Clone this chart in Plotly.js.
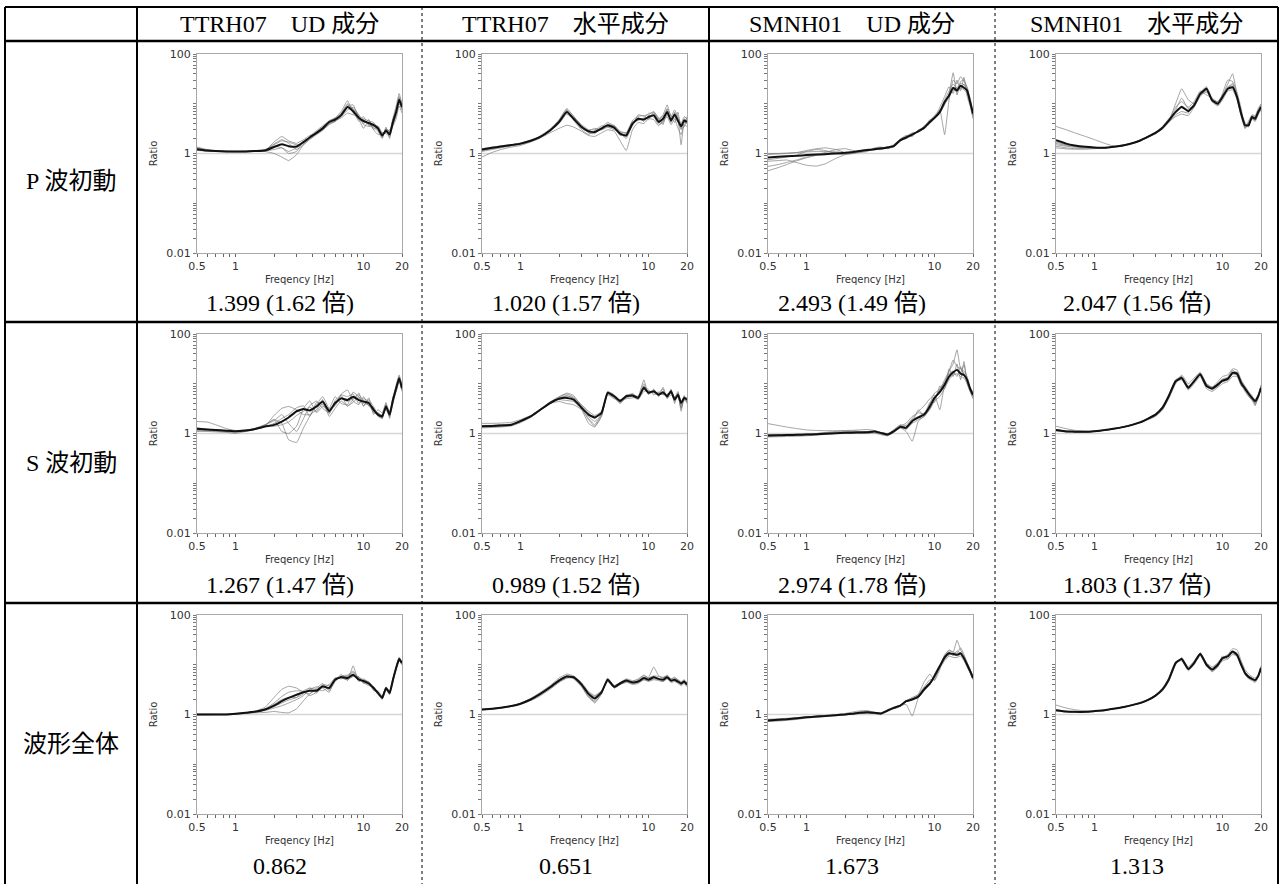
<!DOCTYPE html>
<html>
<head>
<meta charset="utf-8">
<script src="https://cdn.plot.ly/plotly-3.0.1.min.js"></script>
<style>
  html, body { margin: 0; padding: 0; background: #fff; }
  #chart { width: 1282px; height: 884px; }
</style>
</head>
<body>
<div id="chart"></div>
<script>
// Frequency grid [Hz] shared by every spectral-ratio curve
const freqHz = [0.5,0.6,0.7,0.85,1,1.2,1.4,1.7,2,2.3,2.6,3,3.4,3.8,4.3,4.8,5.4,6,6.7,7.5,8.3,9.2,10,11,12,13,14,15,16,17,18,19,20];

// Table text
const columnHeads = ['TTRH07\u3000UD 成分', 'TTRH07\u3000水平成分', 'SMNH01\u3000UD 成分', 'SMNH01\u3000水平成分'];
const rowHeads = ['P 波初動', 'S 波初動', '波形全体'];
const cellValues = [
  '1.399 (1.62 倍)', '1.020 (1.57 倍)', '2.493 (1.49 倍)', '2.047 (1.56 倍)',
  '1.267 (1.47 倍)', '0.989 (1.52 倍)', '2.974 (1.78 倍)', '1.803 (1.37 倍)',
  '0.862', '0.651', '1.673', '1.313'
];
// Labelled ticks and the unlabelled minor ticks of the log axes
const xTickVals = [0.5, 1, 10, 20];
const xTickText = ['0.5', '1', '10', '20'];
const xMinorVals = [0.6,0.7,0.8,0.9,2,3,4,5,6,7,8,9];
const yTickVals = [0.01, 1, 100];
const yTickText = ['0.01', '1', '100'];
const yMinorVals = [0.02,0.03,0.04,0.05,0.06,0.07,0.08,0.09,0.1,0.2,0.3,0.4,0.5,0.6,0.7,0.8,0.9,2,3,4,5,6,7,8,9,10,20,30,40,50,60,70,80,90];

// ---- P-wave onset ----
const pTtrhUdMean = [1.22,1.15,1.12,1.1,1.1,1.1,1.12,1.15,1.35,1.54,1.4,1.38,1.7,2.1,2.6,3.2,4.3,4.8,5.9,8.6,7.1,5.2,4.5,4.1,3.7,3.2,2.3,2.9,2.4,4.3,6.8,12,8.6];
const pTtrhUdRuns = [
  [1.3,1.18,1.12,1.1,1.08,1.08,1.1,1.1,1.0,0.85,0.72,0.95,1.5,2.0,2.7,3.4,4.6,5.2,7.0,11.5,6.5,4.8,5.5,3.6,3.3,2.8,2.0,3.2,2.8,5.2,9.0,16,10],
  [1.2,1.14,1.1,1.08,1.07,1.08,1.1,1.15,1.7,2.2,1.8,1.6,1.9,2.3,2.5,3.0,4.0,4.4,5.5,7.5,8.5,6.0,4.0,4.8,3.0,3.6,2.6,2.5,2.2,3.8,6.0,11,7.5],
  [1.25,1.16,1.12,1.1,1.1,1.1,1.12,1.12,1.2,1.3,1.1,1.3,1.6,2.2,2.9,3.6,4.5,5.0,6.2,9.5,7.8,4.4,5.0,4.5,4.2,2.9,2.1,3.4,2.0,4.6,7.5,14,9.5],
  [1.18,1.12,1.1,1.09,1.1,1.1,1.12,1.18,1.55,1.9,1.6,1.2,1.5,1.9,2.4,2.9,4.0,4.6,5.2,6.5,6.0,5.6,3.8,3.5,4.0,3.4,2.5,2.6,2.7,3.9,6.2,10,7.8],
  [1.35,1.2,1.14,1.12,1.1,1.12,1.13,1.2,1.4,1.3,1.0,1.1,1.8,2.1,2.7,3.3,4.4,5.1,6.4,10,8.0,5.8,4.8,3.8,3.5,3.0,2.2,3.1,2.6,4.9,7.2,13,9.0],
  [1.15,1.12,1.1,1.1,1.1,1.1,1.12,1.16,1.5,1.8,1.7,1.5,1.6,2.0,2.5,3.0,3.8,4.4,6.0,9.0,9.5,5.0,3.2,4.6,3.0,2.4,2.6,2.7,3.0,3.6,5.0,9,6.5]
];
const pTtrhHorMean = [1.2,1.3,1.38,1.48,1.58,1.8,2.1,2.9,4.3,6.8,5.0,3.4,2.8,2.7,3.2,3.7,3.3,2.5,2.3,4.0,5.0,4.8,5.4,5.9,4.3,5.0,6.8,4.6,6.1,4.6,3.5,4.6,4.3];
const pTtrhHorRuns = [
  [0.85,1.05,1.2,1.35,1.45,1.7,2.0,2.6,3.2,3.7,3.4,2.8,2.3,2.2,2.6,3.0,2.8,1.8,1.15,3.0,4.2,4.0,5.0,4.8,3.6,4.5,5.5,3.8,5.0,3.2,2.4,3.8,3.5],
  [1.25,1.35,1.42,1.52,1.62,1.85,2.2,3.1,4.8,8.0,5.6,3.6,2.6,2.5,3.4,4.2,3.6,2.8,2.6,4.6,5.6,5.8,6.0,7.0,5.0,6.0,9.5,5.5,7.5,5.5,4.0,5.5,5.0],
  [1.15,1.25,1.35,1.45,1.55,1.75,2.05,2.8,4.5,7.5,4.6,3.0,2.4,2.9,3.6,3.4,3.0,2.6,2.0,3.8,5.3,4.4,5.8,5.4,3.9,4.2,6.0,4.9,5.2,4.2,3.0,5.0,4.6],
  [1.22,1.3,1.38,1.5,1.6,1.82,2.15,3.0,4.2,7.0,5.3,3.8,3.0,3.0,3.0,3.9,3.5,2.3,2.5,4.4,4.6,5.2,6.4,6.5,4.8,5.6,7.8,4.2,6.8,4.9,1.5,4.2,4.0],
  [1.18,1.28,1.36,1.46,1.56,1.78,2.1,2.85,4.0,6.2,4.8,3.2,2.7,2.6,3.1,3.5,3.2,2.4,2.2,3.9,4.8,5.0,5.2,5.6,4.5,4.8,6.5,5.0,5.8,4.4,3.8,4.4,4.2],
  [1.1,1.2,1.3,1.42,1.52,1.74,2.05,2.9,4.6,7.6,5.6,3.6,2.9,3.2,3.0,3.4,3.7,2.7,2.6,3.6,6.0,5.6,4.8,6.8,5.2,3.8,8.0,5.8,4.2,6.8,3.2,3.4,5.5]
];
const pSmnhUdMean = [0.83,0.86,0.88,0.9,0.93,0.95,0.97,1.0,1.03,1.07,1.12,1.17,1.22,1.26,1.32,1.4,1.85,2.1,2.4,2.8,3.3,4.3,5.2,6.8,10.8,14.7,21,18.5,23,21,18.5,10.8,6.3];
const pSmnhUdRuns = [
  [0.45,0.52,0.6,0.72,0.82,0.92,1.0,1.05,1.0,1.02,1.1,1.15,1.25,1.3,1.35,1.45,1.9,2.2,2.6,2.7,3.6,4.6,5.8,7.5,2.4,12,30,25,35,28,22,12,6.5],
  [0.55,0.6,0.66,0.75,0.85,0.95,1.05,1.2,1.25,1.15,1.05,1.1,1.3,1.35,1.25,1.35,1.8,2.0,2.3,3.0,3.1,4.0,5.0,7.0,12,18,25,20,26,24,20,9.5,5.5],
  [0.95,0.98,1.0,1.05,1.15,1.25,1.3,1.2,1.05,1.0,1.05,1.2,1.2,1.2,1.3,1.38,1.9,2.1,2.4,2.9,3.5,4.5,5.5,6.5,11,15,18,22,20,25,17,11,6.8],
  [0.7,0.72,0.74,0.65,0.58,0.56,0.62,0.8,0.95,1.05,1.15,1.2,1.18,1.28,1.36,1.42,1.75,2.2,2.5,2.7,3.2,4.2,5.0,6.5,9.5,16,42,15,28,30,20,13,7.0],
  [1.0,1.0,1.02,1.05,1.08,1.1,1.1,1.08,1.05,1.08,1.14,1.18,1.24,1.3,1.3,1.4,1.85,2.0,2.4,2.8,3.4,4.4,5.4,7.2,10,13,20,17,21,19,16,10,6.0],
  [0.75,0.8,0.85,0.95,1.1,1.2,1.15,1.0,0.95,1.0,1.1,1.22,1.2,1.22,1.34,1.5,1.95,2.3,2.2,3.0,3.3,4.8,5.0,8.5,14,22,16,30,18,34,14,9,5.0]
];
const pSmnhHorMean = [1.85,1.58,1.45,1.36,1.32,1.3,1.36,1.47,1.63,1.85,2.15,2.6,3.3,4.6,6.8,8.6,7.1,9.3,15.8,20,11.7,10,13.6,20,21.5,13.6,6.3,3.7,3.7,5.4,5.0,6.8,8.6];
const pSmnhHorRuns = [
  [3.5,3.0,2.6,2.2,1.9,1.6,1.42,1.45,1.6,1.8,2.1,2.5,3.2,4.4,10,20,12,10,17,22,12,10,14,22,24,14,6.5,3.5,4.0,5.0,4.6,6.0,8.0],
  [1.4,1.3,1.26,1.25,1.27,1.3,1.36,1.48,1.65,1.9,2.2,2.7,3.4,4.8,7.5,13,8.0,9.5,16,18,12,11,15,25,40,15,7.0,4.2,3.5,5.8,5.5,7.2,9.0],
  [1.6,1.45,1.38,1.33,1.3,1.3,1.35,1.46,1.62,1.82,2.1,2.55,3.2,4.3,5.5,6.2,5.8,8.5,14,19,11,9.0,12,18,19,12,5.5,3.2,3.8,5.0,4.4,6.4,8.2],
  [1.3,1.24,1.22,1.22,1.25,1.29,1.35,1.47,1.63,1.86,2.2,2.7,3.5,5.0,7.0,9.0,7.5,9.0,16,21,13,10.5,13,21,22,14,6.8,3.8,3.4,5.6,5.2,7.0,9.5],
  [1.7,1.5,1.4,1.34,1.31,1.3,1.35,1.47,1.63,1.84,2.1,2.6,3.1,4.2,6.0,7.0,6.5,10,15,17,12.5,11,15,20,26,13,6.0,3.6,4.2,5.2,4.8,6.2,7.5],
  [1.5,1.4,1.34,1.3,1.3,1.31,1.36,1.47,1.62,1.83,2.15,2.6,3.3,4.6,8.5,11,8.5,11,18,15,13,9.5,16,30,28,17,8,3.2,4.5,6,5.8,8,10]
];

// ---- S-wave onset ----
const sTtrhUdMean = [1.24,1.21,1.18,1.14,1.11,1.15,1.22,1.38,1.49,1.74,2.1,2.8,3.1,2.9,3.5,4.4,2.8,4.1,5.1,4.7,5.5,4.7,4.4,4.1,3.0,2.4,2.2,3.5,2.4,4.7,8.1,12.9,8.1];
const sTtrhUdRuns = [
  [1.74,1.7,1.5,1.25,1.15,1.18,1.25,1.5,1.9,1.6,0.75,0.66,1.3,2.2,3.8,5.5,3.2,3.6,6.2,7.5,4.5,3.8,5.5,3.6,2.8,2.6,2.0,3.9,2.8,5.2,9.5,15,9.5],
  [1.15,1.14,1.12,1.1,1.08,1.12,1.2,1.45,1.9,1.1,1.0,1.4,3.2,4.5,2.6,3.5,3.2,5.5,4.0,3.8,6.8,5.4,3.6,4.8,3.4,2.2,2.4,3.0,2.2,4.0,7.0,11,7.5],
  [1.1,1.1,1.08,1.05,1.0,1.1,1.2,1.4,2.3,3.2,3.5,3.0,2.4,2.4,3.0,4.8,2.2,3.2,4.5,3.6,4.2,5.5,4.0,3.8,3.2,2.2,2.0,3.6,2.2,5.0,8.5,14,8.8],
  [1.2,1.16,1.12,1.08,1.06,1.12,1.2,1.36,1.6,2.0,2.4,3.3,3.6,2.2,4.2,3.8,2.5,4.6,6.0,5.5,6.2,4.0,5.0,4.4,2.6,2.6,2.3,3.2,2.6,4.4,7.8,12,7.8],
  [1.3,1.22,1.15,1.1,1.1,1.14,1.22,1.38,1.4,1.5,1.7,2.3,2.8,3.4,2.8,4.0,3.0,3.8,5.0,4.4,5.0,6.0,4.6,3.6,3.4,2.4,2.1,3.6,2.5,4.6,8.0,13,8.4],
  [1.25,1.2,1.15,1.12,1.1,1.15,1.25,1.5,1.8,2.4,1.6,1.1,2.0,3.6,4.5,3.2,2.6,4.0,5.8,3.5,4.8,6.5,3.5,5.2,2.4,3.0,2.6,4.2,2.0,5.6,7.0,11.5,7.0]
];
const sTtrhHorMean = [1.4,1.42,1.45,1.5,1.77,2.2,2.9,4.1,5.0,5.2,4.8,3.3,2.4,2.1,2.6,6.6,5.6,4.5,5.6,5.8,5.2,8.3,6.6,7.1,6.0,6.7,5.6,7.1,4.8,6.0,4.1,5.2,4.8];
const sTtrhHorRuns = [
  [1.6,1.6,1.62,1.68,1.9,2.3,2.9,3.9,5.4,6.5,5.8,3.5,2.2,1.75,2.4,6.0,5.0,4.8,5.0,5.2,5.5,12,6.0,7.5,5.5,8.5,5.0,7.8,4.0,6.6,3.2,5.8,4.0],
  [1.3,1.32,1.35,1.42,1.65,2.1,2.8,4.0,4.4,4.0,3.8,3.0,1.6,1.35,2.2,6.8,5.8,4.2,6.0,5.5,4.8,7.0,7.2,6.5,6.8,6.0,6.2,6.4,5.5,5.4,3.5,4.8,4.2],
  [1.42,1.44,1.48,1.52,1.8,2.25,3.0,4.3,5.5,6.2,5.4,3.8,2.8,2.3,2.8,6.4,5.4,4.4,5.4,6.2,5.0,9.0,6.2,7.8,5.8,7.2,5.2,7.5,4.6,6.4,3.8,5.6,4.6],
  [1.35,1.38,1.42,1.48,1.72,2.15,2.85,4.2,4.8,4.6,4.4,3.1,2.0,1.5,2.5,7.0,6.0,4.6,5.8,6.0,5.6,8.0,7.0,6.8,6.4,6.2,5.8,6.8,5.0,5.6,3.2,5.4,5.0],
  [1.45,1.46,1.5,1.55,1.82,2.2,2.9,4.0,5.0,5.6,5.2,3.6,2.6,2.0,2.7,6.2,5.2,4.0,5.2,5.6,5.0,10,6.4,7.0,6.2,7.0,5.4,7.2,4.4,6.2,2.8,5.0,4.4],
  [1.38,1.4,1.44,1.5,1.76,2.2,2.95,4.2,5.2,5.8,5.0,3.2,1.9,1.4,2.3,6.6,5.4,4.2,5.6,6.4,5.2,8.8,7.6,6.0,6.6,7.8,5.2,6.0,5.2,7.0,4.2,4.6,5.4]
];
const sSmnhUdMean = [0.91,0.92,0.93,0.94,0.95,0.97,0.99,1.01,1.03,1.04,1.05,1.06,1.1,1.03,0.95,1.1,1.36,1.3,1.77,2.1,2.4,3.5,5.2,6.8,9.6,14,17,19,16,15,12,7.9,6.0];
const sSmnhUdRuns = [
  [1.58,1.45,1.35,1.25,1.18,1.15,1.14,1.14,1.15,1.16,1.18,1.2,1.15,1.05,1.0,1.15,1.4,1.6,2.2,2.6,2.5,4.0,6.5,7.5,12,18,25,48,20,18,14,8.5,6.5],
  [0.85,0.86,0.87,0.88,0.9,0.93,0.96,1.0,1.02,1.03,1.02,1.0,1.02,0.95,0.9,1.05,1.3,1.1,0.7,1.8,2.2,3.0,4.5,5.5,8.0,12,15,16,14,13,10,7.0,5.0],
  [0.88,0.9,0.92,0.94,0.96,1.0,1.05,1.1,1.12,1.12,1.1,1.08,1.08,1.0,0.92,1.15,1.5,1.45,2.0,2.8,3.6,5.0,6.0,3.0,10,18,30,22,20,16,11,8.5,6.5],
  [0.95,0.95,0.96,0.97,0.98,1.0,1.03,1.06,1.08,1.1,1.1,1.06,1.12,1.05,0.98,1.08,1.3,1.25,1.6,1.9,2.2,3.2,4.8,8.0,11,16,18,14,22,15,13,7.5,5.8],
  [0.9,0.91,0.92,0.93,0.94,0.96,0.98,1.0,1.02,1.04,1.06,1.1,1.12,1.02,0.96,1.12,1.4,1.35,1.9,2.2,2.6,3.6,5.0,7.2,9.0,13,16,20,17,24,12,8.0,5.6],
  [0.92,0.93,0.94,0.95,0.96,0.98,1.0,1.02,1.05,1.08,1.08,1.05,1.1,1.0,0.95,1.2,1.45,1.2,1.7,3.0,2.2,4.2,4.2,9,8,20,14,25,12,28,10,7,5.2]
];
const sSmnhHorMean = [1.17,1.1,1.09,1.08,1.11,1.17,1.24,1.36,1.51,1.69,1.97,2.4,3.3,5.6,11.2,13,8.3,11.2,15.5,9,8,9.6,11.5,12.5,16.5,16,10.4,8,6.3,5.2,4.5,5.6,8.3];
const sSmnhHorRuns = [
  [1.4,1.25,1.16,1.12,1.12,1.17,1.24,1.36,1.5,1.68,1.95,2.3,3.0,5.0,10,15,10,13,17,10,8.5,11,14,15,20,19,12,9,7,5.8,4.0,5.0,9.5],
  [1.12,1.08,1.06,1.06,1.1,1.16,1.23,1.35,1.52,1.7,1.98,2.45,3.4,6.0,12,14,7.5,10,14,8,7,8.5,10,11,14,14,9.5,7,5.5,4.8,3.6,5.8,7.5],
  [1.2,1.12,1.1,1.09,1.11,1.17,1.25,1.38,1.55,1.75,2.0,2.35,3.2,5.5,11,12,7.8,12,16,10,8.5,10,12,13,18,17,11,8.5,6.8,5.5,4.8,6.0,8.8],
  [1.15,1.1,1.08,1.08,1.11,1.17,1.24,1.36,1.5,1.66,1.9,2.2,3.0,5.2,10.5,12.5,8.8,11,15,9.5,7.5,9.0,11,12,15.5,15,10,7.5,6.0,5.0,4.2,5.4,7.8],
  [1.18,1.11,1.09,1.08,1.11,1.17,1.24,1.37,1.52,1.7,1.96,2.5,3.5,5.8,11.5,13.5,8.5,11.5,16,9.2,8.2,10,11,12,17,16.5,10.5,8.2,6.4,5.4,3.8,5.2,8.6],
  [1.16,1.1,1.08,1.08,1.1,1.16,1.23,1.36,1.5,1.68,1.96,2.4,3.4,5.6,11,14,9,11,15,9,7.8,9.8,12.5,13.5,19,15,9,8.6,5.8,4.6,4.2,5.4,9]
];

// ---- Whole waveform ----
const wTtrhUdMean = [1.0,1.0,1.0,1.0,1.03,1.08,1.13,1.26,1.51,1.85,2.15,2.5,2.8,3.0,3.0,3.7,3.4,5.0,5.7,5.4,6.3,5.0,4.7,4.2,3.4,2.7,2.15,3.4,2.7,5.0,8.6,13,10.8];
const wTtrhUdRuns = [
  [1.02,1.02,1.02,1.02,1.04,1.08,1.15,1.4,2.2,3.2,3.7,3.4,2.8,2.6,3.4,4.2,3.0,4.6,6.0,6.2,7.5,5.2,4.4,4.0,3.2,2.8,2.2,3.6,3.0,5.4,9.0,14,11],
  [1.0,1.0,1.0,1.0,1.02,1.05,1.08,1.1,1.15,1.1,1.08,1.3,1.9,2.6,3.2,3.0,3.6,5.4,5.2,6.0,7.0,5.5,5.0,4.5,3.6,2.6,2.0,3.2,2.5,4.8,8.0,12,10],
  [1.0,1.0,1.0,1.0,1.03,1.07,1.12,1.3,1.7,2.3,2.8,3.0,2.9,2.4,2.8,4.0,3.8,4.8,6.4,4.8,9.5,4.6,5.2,4.4,3.0,3.0,2.3,3.5,2.6,5.2,9.2,14,11.5],
  [0.98,0.98,0.99,0.99,1.01,1.05,1.1,1.2,1.35,1.5,1.7,2.0,2.4,3.2,3.6,3.4,2.8,5.2,5.5,5.0,5.8,5.8,4.4,3.8,3.6,2.5,2.2,3.2,2.8,4.6,8.2,12.5,10],
  [1.01,1.01,1.01,1.01,1.03,1.08,1.14,1.28,1.6,2.0,2.2,2.2,2.6,3.4,2.7,3.6,3.2,5.0,5.6,5.8,6.5,4.8,4.8,4.2,3.3,2.8,2.1,3.4,2.7,5.0,8.4,13,10.5],
  [1.0,1.0,1.0,1.0,1.03,1.07,1.12,1.24,1.45,1.7,1.95,2.2,3.0,3.4,3.2,3.5,4.0,5.4,5.4,5.0,6.0,5.6,4.2,4.6,3.2,2.6,2.4,3.3,2.9,5.2,8.8,13.5,11]
];
const wTtrhHorMean = [1.26,1.3,1.36,1.48,1.65,2.0,2.5,3.5,4.8,5.8,5.6,4.0,2.6,2.1,2.8,5.0,3.6,4.2,4.8,4.4,4.6,5.4,5.0,5.6,5.2,5.0,5.6,4.8,5.0,4.6,4.2,4.6,4.0];
const wTtrhHorRuns = [
  [1.28,1.32,1.38,1.5,1.7,2.1,2.7,3.8,5.4,6.5,6.0,4.2,2.4,1.7,2.6,5.4,3.8,4.4,5.2,4.8,5.0,6.0,5.6,9.0,6.0,5.6,6.0,5.2,5.6,5.0,4.6,5.0,4.4],
  [1.24,1.28,1.34,1.45,1.6,1.9,2.3,3.2,4.4,5.4,5.4,4.2,2.8,2.3,3.0,4.8,3.4,4.0,4.6,4.0,4.2,5.0,4.6,5.0,4.8,4.6,5.2,4.4,4.6,4.2,3.8,4.2,3.6],
  [1.26,1.3,1.36,1.48,1.66,2.0,2.5,3.6,5.0,6.0,5.2,3.6,2.2,1.8,2.6,5.2,3.8,4.4,5.0,4.6,5.2,6.2,5.4,6.0,5.8,5.4,6.2,5.2,5.4,5.0,4.4,4.8,4.2],
  [1.25,1.29,1.35,1.47,1.64,2.0,2.6,3.5,4.6,5.4,5.8,4.4,2.9,2.4,3.0,4.6,3.4,4.0,4.4,4.2,4.4,5.0,4.8,5.2,5.0,4.6,5.4,4.6,4.8,4.4,4.0,4.4,3.8],
  [1.27,1.31,1.37,1.49,1.66,2.05,2.55,3.6,5.0,6.0,5.7,3.8,2.3,1.9,2.9,5.2,3.5,4.3,4.9,4.5,4.7,5.6,5.4,5.8,5.0,5.4,5.8,4.6,5.2,4.8,4.0,4.8,4.2]
];
const wSmnhUdMean = [0.76,0.78,0.8,0.84,0.88,0.91,0.93,0.97,1.0,1.04,1.08,1.11,1.08,1.05,1.2,1.36,1.5,1.85,2.0,2.3,3.2,4.2,5.9,9.3,14,17,16.5,15.8,17,13.5,10,7.4,5.4];
const wSmnhUdRuns = [
  [0.8,0.82,0.84,0.87,0.9,0.93,0.96,1.0,1.05,1.12,1.18,1.2,1.1,1.05,1.25,1.4,1.5,1.6,0.93,2.2,3.0,4.0,6.5,10,15,20,18,31,20,15,11,8,6],
  [0.72,0.74,0.76,0.8,0.85,0.88,0.91,0.95,0.98,1.02,1.04,1.06,1.04,1.0,1.15,1.3,1.45,1.8,2.1,2.4,3.4,4.5,6.0,8.5,12,15,14,14,15,12,9.0,6.8,5.0],
  [0.78,0.8,0.82,0.85,0.89,0.92,0.95,0.99,1.02,1.06,1.12,1.15,1.1,1.08,1.22,1.35,1.55,1.9,2.1,2.6,4.5,6.5,4.8,8.0,16,19,18,17,22,16,11,8,5.8],
  [0.74,0.76,0.79,0.83,0.87,0.9,0.92,0.96,0.99,1.03,1.06,1.08,1.05,1.02,1.18,1.38,1.52,1.85,2.0,2.2,3.0,4.0,5.6,9.6,13,16,17,15,16,14,9.5,7.0,5.2],
  [0.77,0.79,0.81,0.85,0.89,0.92,0.94,0.98,1.01,1.05,1.1,1.12,1.08,1.04,1.2,1.34,1.48,1.9,2.2,2.5,3.6,5.0,5.0,9,13,18,15,19,17,14,10,7.6,5.6]
];
const wSmnhHorMean = [1.22,1.15,1.13,1.13,1.17,1.22,1.3,1.42,1.56,1.71,1.94,2.4,3.2,5.0,10.8,13,8.2,10.8,16.6,10,8,10,13.6,14.7,18.5,15.8,10,6.8,5.7,5.2,4.9,5.9,8.6];
const wSmnhHorRuns = [
  [1.55,1.35,1.25,1.18,1.18,1.22,1.3,1.42,1.56,1.72,1.95,2.35,3.0,4.6,10,14,9.0,12,17,11,9,11,14,16,21,20,12,8,6.5,5.8,5.4,6.4,9.5],
  [1.18,1.13,1.12,1.12,1.16,1.21,1.29,1.41,1.55,1.7,1.92,2.5,3.4,5.4,11.5,12,7.6,10,15.5,9.4,7.2,9.2,12,13,16,15,9.4,6.4,5.2,4.8,4.4,5.6,8.0],
  [1.25,1.16,1.14,1.14,1.17,1.22,1.31,1.44,1.6,1.78,2.0,2.45,3.1,4.8,10.5,13.5,8.6,11.5,17.5,10.5,7.5,9.0,15,13,19,17,11,7.2,6.0,5.4,5.0,6.0,8.8],
  [1.2,1.14,1.12,1.12,1.16,1.22,1.3,1.42,1.56,1.7,1.94,2.4,3.2,5.2,11,12.5,8.0,10.5,16,9.6,8.5,10.5,12.5,15,17,15,9.8,6.6,5.5,5.0,4.6,5.6,8.2],
  [1.22,1.15,1.13,1.13,1.17,1.22,1.3,1.43,1.57,1.72,1.95,2.42,3.25,5.1,10.6,13.2,8.4,11,16.8,10.2,8.2,10.2,13.8,15,18,16,10.2,7.0,5.8,5.3,5.0,6.0,8.8]
];

// Panels in reading order (row by row)
const panels = [
  {mean: pTtrhUdMean, runs: pTtrhUdRuns}, {mean: pTtrhHorMean, runs: pTtrhHorRuns},
  {mean: pSmnhUdMean, runs: pSmnhUdRuns}, {mean: pSmnhHorMean, runs: pSmnhHorRuns},
  {mean: sTtrhUdMean, runs: sTtrhUdRuns}, {mean: sTtrhHorMean, runs: sTtrhHorRuns},
  {mean: sSmnhUdMean, runs: sSmnhUdRuns}, {mean: sSmnhHorMean, runs: sSmnhHorRuns},
  {mean: wTtrhUdMean, runs: wTtrhUdRuns}, {mean: wTtrhHorMean, runs: wTtrhHorRuns},
  {mean: wSmnhUdMean, runs: wSmnhUdRuns}, {mean: wSmnhHorMean, runs: wSmnhHorRuns}
];

// ---- Page geometry (pixels) ----
const W = 1282, H = 884;
const colEdges = [5, 137, 422, 709, 995, 1278];
const rowEdges = [7, 41, 322, 603, 884];
const plotLeft = [197, 482, 768, 1056];
const plotTop = [54, 334, 615];
const plotW = 205, plotH = 199;
const valueY = [303, 585, 866];

const px = v => v / W;
const py = v => 1 - v / H;

const serif = 'Liberation Serif, Noto Sans CJK JP, serif';
const sans = 'DejaVu Sans, sans-serif';
const tableSize = 24;

// tick arrays: labelled ticks plus blank minor ticks
const xAllTicks = xTickVals.concat(xMinorVals);
const xAllText = xTickText.concat(xMinorVals.map(() => ''));
const yAllTicks = yTickVals.concat(yMinorVals);
const yAllText = yTickText.concat(yMinorVals.map(() => ''));

const traces = [];
const shapes = [];
const annotations = [];
const layout = {
  width: W, height: H,
  margin: {l: 0, r: 0, t: 0, b: 0},
  paper_bgcolor: '#ffffff', plot_bgcolor: '#ffffff',
  showlegend: false
};

panels.forEach((p, i) => {
  const r = Math.floor(i / 4), c = i % 4;
  const k = i === 0 ? '' : String(i + 1);
  const xa = 'x' + k, ya = 'y' + k;

  p.runs.forEach(run => {
    traces.push({
      x: freqHz, y: run, xaxis: xa, yaxis: ya, type: 'scatter', mode: 'lines',
      line: {color: 'rgba(125,125,125,0.7)', width: 1, shape: 'spline', smoothing: 0.4},
      hoverinfo: 'skip'
    });
  });
  traces.push({
    x: freqHz, y: p.mean, xaxis: xa, yaxis: ya, type: 'scatter', mode: 'lines',
    line: {color: '#111111', width: 2, shape: 'spline', smoothing: 0.4},
    hoverinfo: 'skip'
  });

  layout['xaxis' + k] = {
    type: 'log', anchor: ya,
    domain: [px(plotLeft[c]), px(plotLeft[c] + plotW)],
    range: [Math.log10(0.5), Math.log10(20)],
    tickmode: 'array', tickvals: xAllTicks, ticktext: xAllText,
    ticks: 'outside', ticklen: 3, tickwidth: 1, tickcolor: '#666',
    showline: true, linecolor: '#a8a8a8', linewidth: 1, mirror: true,
    showgrid: false, zeroline: false,
    tickfont: {family: sans, size: 11, color: '#333'},
    title: {text: 'Freqency [Hz]', font: {family: sans, size: 10, color: '#333'}, standoff: 3}
  };
  layout['yaxis' + k] = {
    type: 'log', anchor: xa,
    domain: [py(plotTop[r] + plotH), py(plotTop[r])],
    range: [-2, 2],
    tickmode: 'array', tickvals: yAllTicks, ticktext: yAllText,
    ticks: 'outside', ticklen: 3, tickwidth: 1, tickcolor: '#777',
    showline: true, linecolor: '#a8a8a8', linewidth: 1, mirror: true,
    showgrid: false, zeroline: false,
    tickfont: {family: sans, size: 11, color: '#333'},
    title: {text: 'Ratio', font: {family: sans, size: 10, color: '#333'}, standoff: 6}
  };

  // reference level: ratio = 1
  shapes.push({
    type: 'line', layer: 'below',
    xref: xa + ' domain', x0: 0, x1: 1,
    yref: ya, y0: 1, y1: 1,
    line: {color: '#d6d6d6', width: 1.5}
  });

  annotations.push({
    xref: 'paper', yref: 'paper',
    x: px((colEdges[c + 1] + colEdges[c + 2]) / 2), y: py(valueY[r]),
    text: cellValues[i], showarrow: false,
    xanchor: 'center', yanchor: 'middle',
    font: {family: serif, size: tableSize, color: '#000'}
  });
});

// Column headers
columnHeads.forEach((t, c) => {
  annotations.push({
    xref: 'paper', yref: 'paper',
    x: px((colEdges[c + 1] + colEdges[c + 2]) / 2), y: py(24),
    text: t, showarrow: false, xanchor: 'center', yanchor: 'middle',
    font: {family: serif, size: tableSize, color: '#000'}
  });
});

// Row headers
rowHeads.forEach((t, r) => {
  annotations.push({
    xref: 'paper', yref: 'paper',
    x: px((colEdges[0] + colEdges[1]) / 2), y: py((rowEdges[r + 1] + rowEdges[r + 2]) / 2),
    text: t, showarrow: false, xanchor: 'center', yanchor: 'middle',
    font: {family: serif, size: tableSize, color: '#000'}
  });
});

// Table rules
const hLine = (y, w) => ({type: 'line', xref: 'paper', yref: 'paper',
  x0: px(colEdges[0]), x1: px(colEdges[5]), y0: py(y), y1: py(y), line: {color: '#000', width: w}});
const vLine = (x, w, dash) => ({type: 'line', xref: 'paper', yref: 'paper',
  x0: px(x), x1: px(x), y0: py(rowEdges[0]), y1: py(rowEdges[4]), line: {color: '#000', width: w, dash: dash || 'solid'}});

shapes.push(hLine(rowEdges[0], 2));
shapes.push(hLine(rowEdges[1], 2.5));
shapes.push(hLine(rowEdges[2], 2.5));
shapes.push(hLine(rowEdges[3], 2.5));
shapes.push(vLine(colEdges[0], 2));
shapes.push(vLine(colEdges[1], 2));
shapes.push(vLine(colEdges[2], 1, 'dot'));
shapes.push(vLine(colEdges[3], 2));
shapes.push(vLine(colEdges[4], 1, 'dot'));
shapes.push(vLine(colEdges[5], 2));

layout.shapes = shapes;
layout.annotations = annotations;

Plotly.newPlot('chart', traces, layout, {staticPlot: true, displayModeBar: false});
</script>
</body>
</html>
